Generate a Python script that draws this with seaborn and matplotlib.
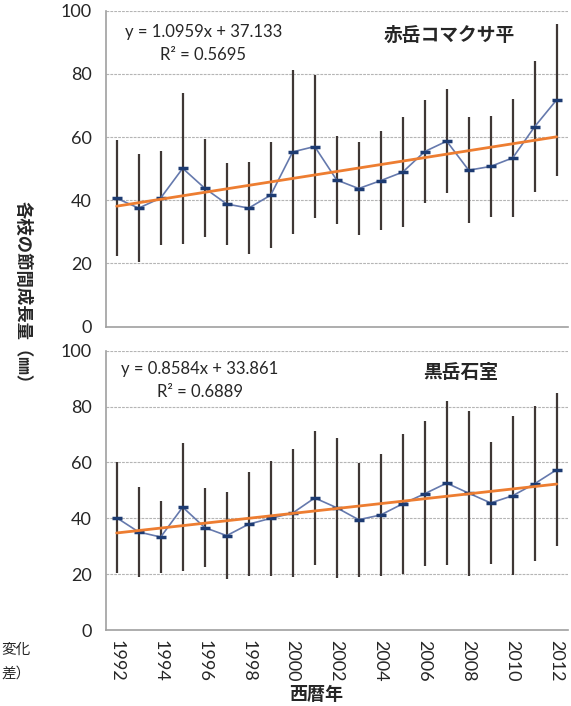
import numpy as np
import pandas as pd
import matplotlib
matplotlib.use('Agg')
import matplotlib.pyplot as plt
import seaborn as sns

# data
years = list(range(1992, 2013))

# 赤岳コマクサ平 : mean and sd per year
akadake_mean = [40.6, 37.5, 40.7, 50.1, 43.8, 38.8, 37.5, 41.6, 55.3, 57.0, 46.4,
                43.7, 46.2, 48.9, 55.4, 58.7, 49.5, 50.7, 53.4, 63.3, 71.8]
akadake_sd = [18.4, 17.0, 15.0, 24.0, 15.5, 13.0, 14.6, 16.8, 26.0, 22.5, 13.8,
              14.7, 15.7, 17.5, 16.4, 16.5, 16.8, 15.9, 18.6, 20.7, 24.0]

# 黒岳石室
kurodake_mean = [40.2, 35.1, 33.3, 44.0, 36.7, 33.8, 37.9, 40.0, 41.9, 47.3, 43.8,
                 39.5, 41.2, 45.2, 48.8, 52.6, 49.0, 45.5, 48.1, 52.4, 57.4]
kurodake_sd = [19.8, 16.2, 13.0, 23.0, 14.2, 15.5, 18.6, 20.7, 23.0, 24.0, 25.0,
               20.4, 21.9, 25.0, 26.0, 29.4, 29.6, 22.0, 28.4, 27.7, 27.4]

panel_titles = ['赤岳コマクサ平', '黒岳石室']
equations = ['y = 1.0959x + 37.133', 'y = 0.8584x + 33.861']
r2_texts = ['R² = 0.5695', 'R² = 0.6889']
year_labels = [str(y) for y in range(1992, 2013, 2)]
yticks = [0, 20, 40, 60, 80, 100]

sns.set_style('white')
plt.rcParams['font.family'] = ['Lato', 'Noto Sans CJK JP', 'DejaVu Sans']
cjk = ['Noto Sans CJK JP', 'DejaVu Sans']
txt = '#262626'

fig = plt.figure(figsize=(5.71, 7.06), dpi=100)
ax1 = fig.add_axes([0.1851, 0.5375, 0.8091, 0.4473])
ax2 = fig.add_axes([0.1851, 0.1076, 0.8091, 0.3956])

panels = [(ax1, akadake_mean, akadake_sd), (ax2, kurodake_mean, kurodake_sd)]
for i, (ax, m, s) in enumerate(panels):
    df = pd.DataFrame({'year': years, 'mean': m, 'sd': s})
    for yv in yticks[1:]:
        ax.axhline(yv, color='#b5b5b5', lw=0.8, ls=(0, (2.5, 1)), zorder=1)
    ax.errorbar(df['year'], df['mean'], yerr=df['sd'], fmt='none',
                ecolor='#3f3735', elinewidth=1.6, capsize=0, zorder=2)
    sns.lineplot(data=df, x='year', y='mean', ax=ax, color='#6579ad', lw=1.2,
                 marker='_', markersize=7, mew=2.5, mec='#1d3b72', zorder=3)
    sns.regplot(data=df, x='year', y='mean', ax=ax, scatter=False, ci=None,
                truncate=True, color='#ed7d31', line_kws={'lw': 2, 'zorder': 4})

    ax.set_xlim(1991.5, 2012.5)
    ax.set_ylim(0, 100)
    ax.set_yticks(yticks)
    ax.set_yticklabels([str(v) for v in yticks], fontsize=13, color=txt)
    ax.set_xticks(range(1992, 2013, 2))
    ax.set_xticks(np.arange(1991.5, 2013, 1), minor=True)
    ax.tick_params(axis='x', which='major', length=0, pad=7)
    ax.tick_params(axis='x', which='minor', length=5, color='#a0a0a0', width=1, direction='out')
    ax.tick_params(axis='y', length=4, color='#a0a0a0', width=1, direction='out', pad=6)
    if i == 1:
        ax.set_xticklabels(year_labels, rotation=-90, fontsize=13, color=txt)
    else:
        ax.set_xticklabels([])
    ax.set_xlabel('')
    ax.set_ylabel('')
    for sp in ['top', 'right']:
        ax.spines[sp].set_visible(False)
    for sp in ['left', 'bottom']:
        ax.spines[sp].set_color('#a0a0a0')
        ax.spines[sp].set_linewidth(1.2)

# annotations
fig.text(204 / 571, 1 - 32 / 706, equations[0], ha='center', va='center', fontsize=12, color=txt)
fig.text(203 / 571, 1 - 55 / 706, r2_texts[0], ha='center', va='center', fontsize=12, color=txt)
fig.text(449 / 571, 1 - 35 / 706, panel_titles[0], ha='center', va='center', fontsize=13.5,
         fontweight='bold', color=txt, family=cjk)
fig.text(200 / 571, 1 - 369 / 706, equations[1], ha='center', va='center', fontsize=12, color=txt)
fig.text(200 / 571, 1 - 392 / 706, r2_texts[1], ha='center', va='center', fontsize=12, color=txt)
fig.text(461 / 571, 1 - 373 / 706, panel_titles[1], ha='center', va='center', fontsize=13.5,
         fontweight='bold', color=txt, family=cjk)

fig.text(23 / 571, 1 - 297 / 706, '各枝の節間成長量（㎜）', rotation=-90, ha='center', va='center',
         fontsize=12.5, fontweight='bold', color=txt, family=cjk)
fig.text(316 / 571, 1 - 695 / 706, '西暦年', ha='center', va='center', fontsize=13,
         fontweight='bold', color=txt, family=cjk)

# caption fragments at the left edge
fig.text(1 / 571, 1 - 650 / 706, '変化', ha='left', va='center', fontsize=10.5, color=txt, family=cjk)
fig.text(1 / 571, 1 - 674 / 706, '差）', ha='left', va='center', fontsize=10.5, color=txt, family=cjk)

fig.savefig('out.png', dpi=100)
